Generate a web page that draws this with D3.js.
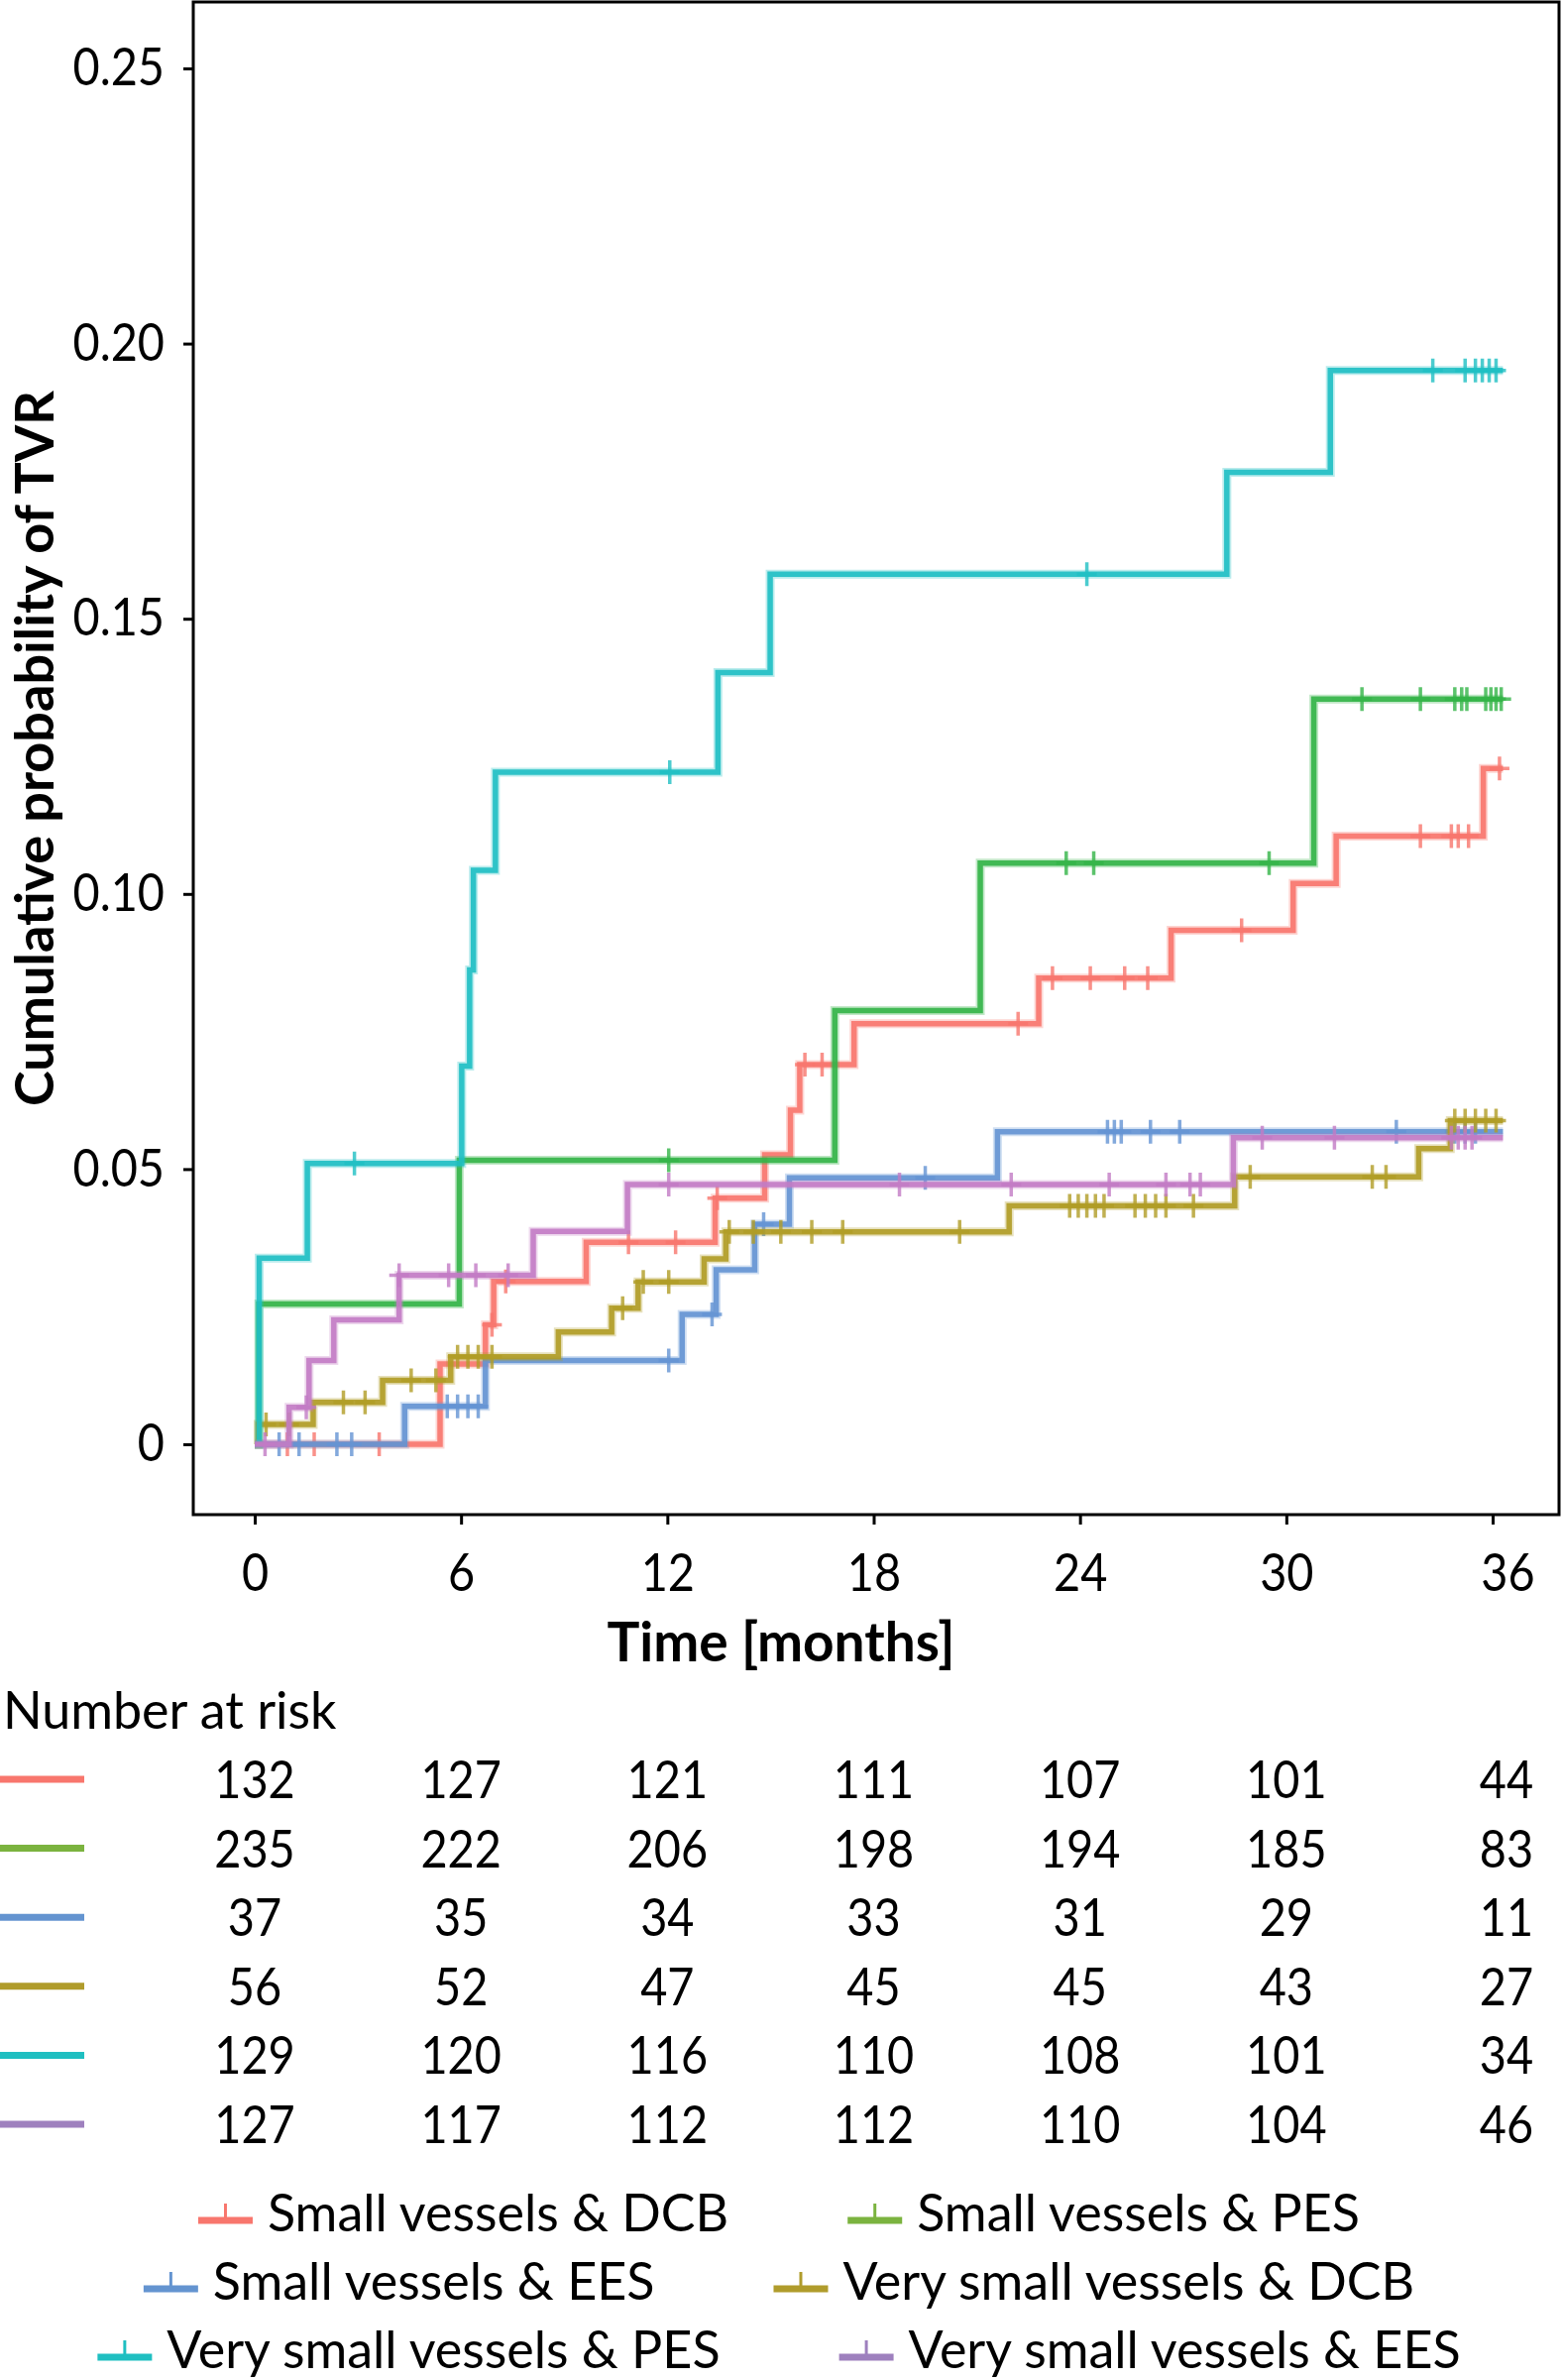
<!DOCTYPE html>
<html>
<head>
<meta charset="utf-8">
<script src="https://cdn.jsdelivr.net/npm/d3@7"></script>
<style>
  body { margin: 0; background: #fff; }
  text { font-family: Lato, "Noto Sans", sans-serif; fill: #000; }
</style>
</head>
<body>
<svg id="chart" width="1576" height="2401"></svg>
<script>
const width = 1576;
const height = 2401;

const months = [0, 6, 12, 18, 24, 30, 36];
const yTicks = [0, 0.05, 0.10, 0.15, 0.20, 0.25];
const followUpEnd = 36.3;

const groups = [
  "Small vessels & DCB",
  "Small vessels & PES",
  "Small vessels & EES",
  "Very small vessels & DCB",
  "Very small vessels & PES",
  "Very small vessels & EES"
];

// colours of the curves and of the swatches in table/legend
const lineColors = ["#F8766D", "#33B447", "#6494D3", "#B09C25", "#1FBFC3", "#C27BC4"];
const keyColors = ["#F8766D", "#7BB33F", "#6494D0", "#B09C2C", "#1FBFC1", "#9E80BE"];

// step changes [month, cumulative probability]
const dcbSmall = [[0, 0], [5.39, 0.0146], [6.71, 0.0217], [6.95, 0.0296], [9.64, 0.0367], [13.39, 0.0447],
  [14.83, 0.0526], [15.58, 0.0607], [15.85, 0.069], [17.43, 0.0764], [22.8, 0.0847], [26.65, 0.0934],
  [30.2, 0.1019], [31.45, 0.1105], [35.73, 0.1228]];
const pesSmall = [[0, 0], [0.12, 0.0255], [5.95, 0.0516], [16.87, 0.0788], [21.1, 0.1056], [30.8, 0.1354]];
const eesSmall = [[0, 0], [4.36, 0.0069], [6.71, 0.0152], [12.43, 0.0236], [13.42, 0.0317], [14.54, 0.04],
  [15.55, 0.0484], [21.6, 0.0568]];
const dcbVerySmall = [[0, 0], [0.1, 0.0036], [1.7, 0.0076], [3.72, 0.0116], [5.7, 0.0159], [8.83, 0.0204],
  [10.38, 0.0247], [11.15, 0.0295], [13.07, 0.0337], [13.7, 0.0386], [21.94, 0.0433], [28.5, 0.0486],
  [33.85, 0.0537], [34.77, 0.0588]];
const pesVerySmall = [[0, 0], [0.13, 0.0338], [1.53, 0.051], [6.02, 0.0687], [6.25, 0.0862], [6.36, 0.1043],
  [7.0, 0.1221], [13.47, 0.1402], [14.99, 0.1581], [28.27, 0.1766], [31.28, 0.1951]];
const eesVerySmall = [[0, 0], [1.0, 0.0067], [1.58, 0.0152], [2.3, 0.0226], [4.2, 0.0307], [8.1, 0.0387],
  [10.84, 0.0472], [28.46, 0.0557]];

// censoring times [month]
const dcbSmallCens = [0.95, 1.73, 3.62, 6.9, 7.3, 10.87, 12.24, 13.45, 16.0, 16.5, 22.2, 23.2, 24.3, 25.3,
  25.97, 28.7, 33.9, 34.8, 35.0, 35.3, 36.2];
const pesSmallCens = [12.04, 23.6, 24.4, 29.5, 32.2, 33.9, 34.9, 35.1, 35.25, 35.8, 35.95, 36.1, 36.25];
const eesSmallCens = [0.71, 1.29, 2.39, 2.82, 5.6, 5.9, 6.2, 6.5, 12.04, 13.3, 14.8, 19.5, 24.8, 25.0, 25.2,
  26.05, 26.9, 33.2, 34.9, 35.2, 35.5];
const dcbVerySmallCens = [0.33, 1.0, 2.58, 3.21, 4.55, 5.27, 5.9, 6.2, 6.5, 6.9, 10.7, 11.3, 12.04, 13.8, 14.5,
  15.3, 16.2, 17.1, 20.5, 23.7, 23.95, 24.2, 24.45, 24.7, 25.6, 25.9, 26.2, 26.5, 27.3, 28.95, 32.5, 32.9,
  34.9, 35.2, 35.5, 35.8, 36.1];
const pesVerySmallCens = [2.9, 12.07, 24.2, 34.26, 35.2, 35.5, 35.7, 35.9, 36.1];
const eesVerySmallCens = [0.3, 1.5, 4.2, 5.64, 6.43, 7.37, 12.04, 18.75, 22.0, 24.85, 26.5, 27.2, 27.5, 29.3,
  31.4, 34.8, 35.0, 35.2, 35.4];

// number at risk at each tick month
const riskDcbSmall = [132, 127, 121, 111, 107, 101, 44];
const riskPesSmall = [235, 222, 206, 198, 194, 185, 83];
const riskEesSmall = [37, 35, 34, 33, 31, 29, 11];
const riskDcbVerySmall = [56, 52, 47, 45, 45, 43, 27];
const riskPesVerySmall = [129, 120, 116, 110, 108, 101, 34];
const riskEesVerySmall = [127, 117, 112, 112, 110, 104, 46];

const steps = [dcbSmall, pesSmall, eesSmall, dcbVerySmall, pesVerySmall, eesVerySmall];
const censors = [dcbSmallCens, pesSmallCens, eesSmallCens, dcbVerySmallCens, pesVerySmallCens, eesVerySmallCens];
const risk = [riskDcbSmall, riskPesSmall, riskEesSmall, riskDcbVerySmall, riskPesVerySmall, riskEesVerySmall];

const series = groups.map((name, i) => ({
  name, color: lineColors[i], key: keyColors[i], steps: steps[i], censors: censors[i], risk: risk[i]
}));

const frame = { left: 195, right: 1573, top: 2, bottom: 1528 };
const fontSize = 52;
const squeeze = 0.9; // the figure's digits are narrower than Lato's

const svg = d3.select("#chart");

const x = d3.scaleLinear().domain([0, 36]).range([257, 1506]);
const y = d3.scaleLinear().domain([0, 0.25]).range([1457, 69]);

function condense(sel, k = squeeze) {
  sel.each(function () {
    const w = this.getComputedTextLength();
    this.setAttribute("textLength", w * k);
    this.setAttribute("lengthAdjust", "spacingAndGlyphs");
  });
}

function valueAt(st, t) {
  let v = 0;
  for (const [m, p] of st) if (m <= t) v = p;
  return v;
}

// axes
const yAxis = svg.append("g")
  .attr("transform", `translate(${frame.left},0)`)
  .call(d3.axisLeft(y).tickValues(yTicks).tickSize(10).tickPadding(19)
    .tickFormat(d => d === 0 ? "0" : d3.format(".2f")(d)));
yAxis.select(".domain").remove();
yAxis.selectAll("line").attr("stroke", "#000").attr("stroke-width", 3);
yAxis.selectAll("text").attr("font-size", fontSize).attr("font-family", null).call(condense);

const xAxis = svg.append("g")
  .attr("transform", `translate(0,${frame.bottom})`)
  .call(d3.axisBottom(x).tickValues(months).tickSize(10));
xAxis.select(".domain").remove();
xAxis.selectAll("line").attr("stroke", "#000").attr("stroke-width", 3);
xAxis.selectAll("text")
  .attr("font-size", fontSize).attr("font-family", null)
  .attr("y", 77).attr("dy", null)
  .attr("dx", d => d === 36 ? 15 : 0)
  .call(condense);

svg.append("rect")
  .attr("x", frame.left).attr("y", frame.top)
  .attr("width", frame.right - frame.left).attr("height", frame.bottom - frame.top)
  .attr("fill", "none").attr("stroke", "#000").attr("stroke-width", 3);

// titles
svg.append("text")
  .attr("x", 788).attr("y", 1676)
  .attr("text-anchor", "middle").attr("font-weight", 700).attr("font-size", 55)
  .text("Time [months]");

svg.append("text")
  .attr("transform", "translate(54,755) rotate(-90)")
  .attr("text-anchor", "middle").attr("font-weight", 700).attr("font-size", 54)
  .text("Cumulative probability of TVR");

// curves
const line = d3.line()
  .x(d => x(d[0]))
  .y(d => y(d[1]))
  .curve(d3.curveStepAfter);

const curves = svg.append("g");
series.forEach(s => {
  const pts = s.steps.concat([[followUpEnd, s.steps[s.steps.length - 1][1]]]);
  const d = line(pts);
  curves.append("path")
    .attr("d", d)
    .attr("fill", "none")
    .attr("stroke", s.color)
    .attr("stroke-width", 9)
    .attr("stroke-opacity", 0.3);
  curves.append("path")
    .attr("d", d)
    .attr("fill", "none")
    .attr("stroke", s.color)
    .attr("stroke-width", 5.5)
    .attr("stroke-opacity", 0.9);

  curves.selectAll(null)
    .data(s.censors)
    .join("path")
    .attr("d", t => {
      const cx = x(t), cy = y(valueAt(s.steps, t));
      return `M${cx - 10},${cy}h20M${cx},${cy - 12}v24`;
    })
    .attr("fill", "none")
    .attr("stroke", s.color)
    .attr("stroke-width", 3.5)
    .attr("stroke-opacity", 0.8);
});

// number at risk table
svg.append("text")
  .attr("x", 3).attr("y", 1744)
  .attr("font-size", fontSize)
  .text("Number at risk");

const rowY = d3.scalePoint().domain(groups).range([1795, 2143]);

series.forEach(s => {
  const cy = rowY(s.name);
  svg.append("line")
    .attr("x1", 0).attr("x2", 85)
    .attr("y1", cy).attr("y2", cy)
    .attr("stroke", s.key).attr("stroke-width", 7);
  svg.selectAll(null)
    .data(s.risk)
    .join("text")
    .attr("x", (d, i) => x(months[i]) + (i === months.length - 1 ? 14 : 0))
    .attr("y", cy + 19)
    .attr("text-anchor", "middle")
    .attr("font-size", fontSize)
    .text(d => d)
    .call(condense);
});

// legend, two entries per row, each row centred
const legendRows = [[0, 1], [2, 3], [4, 5]];
const legendY = [2232, 2301, 2370];
const legendCenter = 786;
const swatch = 55, swatchGap = 15, entryGap = 120;

legendRows.forEach((row, r) => {
  const g = svg.append("g");
  const entries = row.map(i => {
    const e = g.append("g");
    const label = e.append("text")
      .attr("x", swatch + swatchGap).attr("y", 19)
      .attr("font-size", fontSize)
      .text(series[i].name);
    e.append("line")
      .attr("x1", 0).attr("x2", swatch).attr("y1", 8).attr("y2", 8)
      .attr("stroke", series[i].key).attr("stroke-width", 7);
    e.append("line")
      .attr("x1", swatch / 2).attr("x2", swatch / 2).attr("y1", 8).attr("y2", -9)
      .attr("stroke", series[i].key).attr("stroke-width", 3);
    return { e, w: swatch + swatchGap + label.node().getComputedTextLength() };
  });
  const total = entries[0].w + entryGap + entries[1].w;
  let cx = legendCenter - total / 2;
  entries.forEach(en => {
    en.e.attr("transform", `translate(${cx},${legendY[r]})`);
    cx += en.w + entryGap;
  });
});
</script>
</body>
</html>
